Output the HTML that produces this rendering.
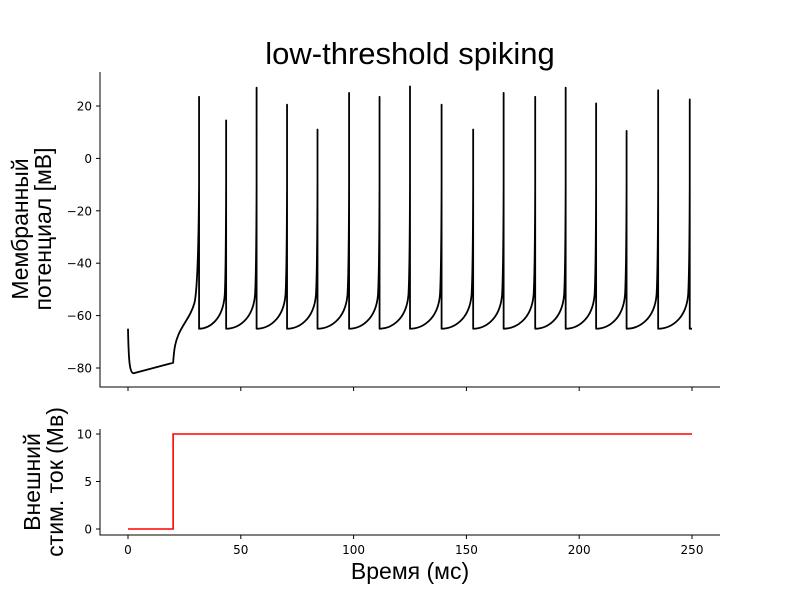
<!DOCTYPE html>
<html><head><meta charset="utf-8"><style>
body{margin:0;background:#fff;}
svg{display:block;font-family:"Liberation Sans","DejaVu Sans",sans-serif;}
.tk{font-family:"DejaVu Sans","Liberation Sans",sans-serif;}
</style></head><body>
<svg id="chart" width="800" height="600" viewBox="0 0 800 600">
<text x="410" y="64" font-size="31" text-anchor="middle">low-threshold spiking</text>
<g id="topPanel"></g>
<g id="botPanel"></g>
<text transform="translate(28,229) rotate(-90)" font-size="23" text-anchor="middle"><tspan x="0" dy="0">Мембранный</tspan><tspan x="0" dy="23">потенциал [мВ]</tspan></text>
<text transform="translate(40,482) rotate(-90)" font-size="23" text-anchor="middle"><tspan x="0" dy="0">Внешний</tspan><tspan x="0" dy="23">стим. ток (Мв)</tspan></text>
<text x="410" y="579" font-size="23" text-anchor="middle">Время (мс)</text>
</svg>
<script>
const spikeTimes=[31.5,43.5,57,70.5,84,98,111.5,125,139,153,166.5,180.5,194,207.5,221,235,249];
const spikePeaks=[23.5,14.5,27,20.5,11,25,23.5,27.5,20.5,11,25,23.5,27,21,10.5,26,22.5];
const xTicks=[0,50,100,150,200,250];
const yTicksTop=[20,0,-20,-40,-60,-80];
const yTicksBot=[0,5,10];
const stimTimes=[0,20,20,250];
const stimValues=[0,0,10,10];
const NS='http://www.w3.org/2000/svg';
const xs=t=>128+(t-0)*(692-128)/250;
const yT=v=>368+(v+80)*(106-368)/100;
const yB=v=>529+v*(434-529)/10;
function mk(tag,attrs,parent){const e=document.createElementNS(NS,tag);for(const k in attrs)e.setAttribute(k,attrs[k]);parent.appendChild(e);return e;}
const topG=document.getElementById('topPanel'),botG=document.getElementById('botPanel');
let s=mk('path',{d:'M100,72V387H720',fill:'none',stroke:'#000','stroke-width':1},topG);


s=mk('path',{d:'M100,429V535H720',fill:'none',stroke:'#000','stroke-width':1},botG);


xTicks.forEach(t=>{
 let l=mk('line',{x1:xs(t),x2:xs(t),y1:387,y2:391,stroke:'#000'},topG);
 
 
 l=mk('line',{x1:xs(t),x2:xs(t),y1:535,y2:539,stroke:'#000'},botG);
 
 
 const tx=mk('text',{x:xs(t),y:554,'font-size':12,'text-anchor':'middle',class:'tk'},botG);tx.textContent=t;
 
 
});
yTicksTop.forEach(v=>{
 const l=mk('line',{x1:96,x2:100,y1:yT(v),y2:yT(v),stroke:'#000'},topG);
 
 
 const tx=mk('text',{x:92,y:yT(v)+4.5,'font-size':12,'text-anchor':'end',class:'tk'},topG);tx.textContent=v===0?'0':String(v).replace('-','−');
 
 
});
yTicksBot.forEach(v=>{
 const l=mk('line',{x1:96,x2:100,y1:yB(v),y2:yB(v),stroke:'#000'},botG);
 
 
 const tx=mk('text',{x:92,y:yB(v)+4.5,'font-size':12,'text-anchor':'end',class:'tk'},botG);tx.textContent=v;
 
 
});
let d=`M${xs(0)},${yT(-65)} C${xs(0.3)},${yT(-78)} ${xs(0.8)},${yT(-82)} ${xs(2.5)},${yT(-82)} L${xs(20)},${yT(-78)}`;
d+=` C${xs(20.5)},${yT(-72)} ${xs(21)},${yT(-70)} ${xs(22.5)},${yT(-67)} C${xs(24.5)},${yT(-63)} ${xs(28)},${yT(-60)} ${xs(29.5)},${yT(-55)} C${xs(30.8)},${yT(-50)} ${xs(spikeTimes[0]-0.2)},${yT(-35)} ${xs(spikeTimes[0])},${yT(-10)}`;
for(let i=0;i<spikeTimes.length;i++){
 const t=spikeTimes[i];
 d+=` L${xs(t)},${yT(spikePeaks[i])} L${xs(t)},${yT(-65)}`;
 if(i+1<spikeTimes.length){
  const n=spikeTimes[i+1],g=n-t;
  d+=` C${xs(t+g*0.35)},${yT(-65)} ${xs(n-g*0.12)},${yT(-62)} ${xs(n-g*0.05)},${yT(-52)} C${xs(n-g*0.02)},${yT(-46)} ${xs(n-0.1)},${yT(-35)} ${xs(n)},${yT(-10)}`;
 } else d+=` L${xs(250)},${yT(-65)}`;
}
let p=mk('path',{d,fill:'none',stroke:'#000','stroke-width':1.8,'stroke-linejoin':'round'},topG);


const sd=stimTimes.map((t,i)=>(i?'L':'M')+xs(t)+','+yB(stimValues[i])).join(' ');
p=mk('path',{d:sd,fill:'none',stroke:'#f00','stroke-width':1.6},botG);


</script>
</body></html>
